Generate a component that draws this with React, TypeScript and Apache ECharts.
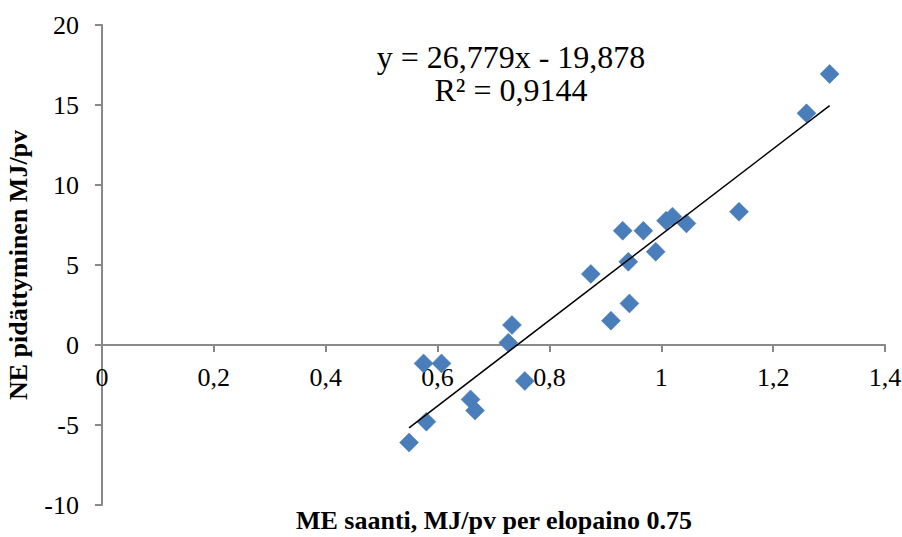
import React, { useEffect, useRef } from "react";
import * as echarts from "echarts";

// ME intake (x) vs NE retention (y)
const meIntake: number[] = [
  0.549, 0.58, 0.575, 0.607, 0.659, 0.667, 0.7265, 0.733, 0.756,
  0.874, 0.941, 0.931, 0.968, 0.99, 1.0085, 1.02, 1.045, 1.139,
  0.943, 0.91, 1.2596, 1.301,
];
const neRetention: number[] = [
  -6.1, -4.79, -1.15, -1.15, -3.4, -4.1, 0.14, 1.25, -2.25,
  4.44, 5.2, 7.14, 7.14, 5.83, 7.77, 8.02, 7.6, 8.33,
  2.6, 1.52, 14.48, 16.94,
];
const slope = 26.779;
const intercept = -19.878;
const equationText = "y = 26,779x - 19,878";
const r2Text = "R² = 0,9144";
const xTitle = "ME saanti, MJ/pv per elopaino 0.75";
const yTitle = "NE pidättyminen MJ/pv";

const X_MIN = 0, X_MAX = 1.4, X_STEP = 0.2;
const Y_MIN = -10, Y_MAX = 20, Y_STEP = 5;

export default function App() {
  const ref = useRef<HTMLDivElement>(null);
  useEffect(() => {
    if (!ref.current) return;
    const chart = echarts.init(ref.current, undefined, { renderer: "svg" });
    const pts = meIntake.map((x, i) => [x, neRetention[i]]);
    const xmin = Math.min(...meIntake);
    const xmax = Math.max(...meIntake);
    const trend = [
      [xmin, slope * xmin + intercept],
      [xmax, slope * xmax + intercept],
    ];
    const font = "'Liberation Serif', 'Times New Roman', serif";
    const axisColor = "#898989";
    const fmt = (v: number) => String(+(+v).toFixed(1)).replace(".", ",");
    const gridTop = 25;
    const gridBottom = 32;
    const plotH = 537 - gridTop - gridBottom;
    // move x-axis from grid bottom up to y = 0
    const zeroOffset = -plotH * (0 - Y_MIN) / (Y_MAX - Y_MIN);
    chart.setOption({
      animation: false,
      backgroundColor: "#ffffff",
      grid: {
        left: 102,
        right: 17,
        top: gridTop,
        bottom: gridBottom,
        containLabel: false,
        outerBoundsMode: "none",
      },
      xAxis: {
        type: "value",
        min: X_MIN,
        max: X_MAX,
        interval: X_STEP,
        position: "bottom",
        offset: zeroOffset,
        axisLine: { onZero: false, lineStyle: { color: axisColor, width: 2 } },
        axisTick: { show: true, length: 7, lineStyle: { color: axisColor, width: 2 } },
        splitLine: { show: false },
        axisLabel: {
          formatter: fmt,
          color: "#000",
          fontFamily: font,
          fontSize: 26,
          margin: 19,
          hideOverlap: false,
        },
      },
      yAxis: {
        type: "value",
        min: Y_MIN,
        max: Y_MAX,
        interval: Y_STEP,
        name: yTitle,
        nameLocation: "middle",
        nameGap: 71,
        nameRotate: 90,
        nameTextStyle: {
          color: "#000",
          fontFamily: font,
          fontSize: 26,
          fontWeight: "bold",
        },
        axisLine: { onZero: false, lineStyle: { color: axisColor, width: 2 } },
        axisTick: { show: true, length: 7, lineStyle: { color: axisColor, width: 2 } },
        splitLine: { show: false },
        axisLabel: {
          color: "#000",
          fontFamily: font,
          fontSize: 26,
          margin: 23,
        },
      },
      graphic: [
        {
          type: "text",
          style: {
            x: 494,
            y: 520,
            text: xTitle,
            fill: "#000",
            font: `bold 26px ${font}`,
            textAlign: "center",
            textVerticalAlign: "middle",
          },
        },
        {
          type: "text",
          style: {
            x: 511,
            y: 57,
            text: equationText,
            fill: "#000",
            font: `32px ${font}`,
            textAlign: "center",
            textVerticalAlign: "middle",
          },
        },
        {
          type: "text",
          style: {
            x: 511,
            y: 90,
            text: r2Text,
            fill: "#000",
            font: `32px ${font}`,
            textAlign: "center",
            textVerticalAlign: "middle",
          },
        },
      ],
      series: [
        {
          type: "scatter",
          data: pts,
          symbol: "diamond",
          symbolSize: 19,
          itemStyle: { color: "#4a7ebb", borderColor: "#4677b5", borderWidth: 0.5, opacity: 1 },
          z: 2,
        },
        {
          type: "line",
          data: trend,
          symbol: "none",
          lineStyle: { color: "#000", width: 1.5 },
          z: 3,
        },
      ],
    });
    return () => chart.dispose();
  }, []);
  return (
    <div
      ref={ref}
      style={{ position: "fixed", left: 0, top: 0, width: 902, height: 537 }}
    />
  );
}
